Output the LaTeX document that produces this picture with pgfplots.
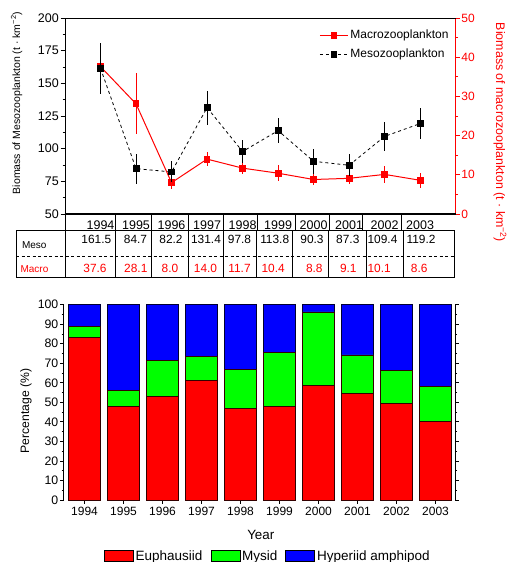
\documentclass[border=0pt]{standalone}
\usepackage{pgfplots}
\pgfplotsset{compat=1.18}
\usepackage{fontspec}
\setmainfont{Liberation Sans}
\definecolor{cred}{RGB}{255,0,0}
\definecolor{cgreen}{RGB}{0,255,0}
\definecolor{cblue}{RGB}{0,0,255}
\newcommand\fs[1]{\fontsize{#1}{#1}\selectfont}
\pgfplotstableread{
year y ey
1994 37.6 2.5
1995 28.1 7.8
1996 8.0 1.6
1997 14.0 1.7
1998 11.7 1.4
1999 10.4 2.1
2000 8.8 1.4
2001 9.1 1.5
2002 10.1 2.2
2003 8.6 1.9
}\macro
\pgfplotstableread{
year y ey
1994 161.5 19.4
1995 84.7 11.4
1996 82.2 8.0
1997 131.4 13.1
1998 97.8 9.0
1999 113.8 9.4
2000 90.3 9.4
2001 87.3 8.5
2002 109.4 11.0
2003 119.2 12.0
}\meso
\pgfplotstableread{
x eup mys hyp
0 83.3 5.5 11.2
1 48.0 8.0 44.0
2 53.2 18.2 28.6
3 61.2 12.4 26.4
4 46.7 20.1 33.2
5 48.0 27.5 24.5
6 58.6 37.7 3.7
7 54.7 19.6 25.7
8 49.4 17.0 33.6
9 40.4 17.7 41.9
}\perc
\begin{document}
\begin{tikzpicture}[x=1pt,y=1pt]
\useasboundingbox (0,0) rectangle (507,562);
% ---------- top: macrozooplankton (right axis) ----------
\begin{axis}[
  at={(65pt,348pt)}, anchor=south west,
  scale only axis, width=390.7pt, height=196pt,
  xmin=1993, xmax=2004, ymin=0, ymax=50,
  axis x line=none, axis y line*=right,
  y axis line style={cred,-,line width=0.8pt},
  ytick={0,10,...,50}, minor y tick num=1,
  tick align=outside, major tick length=4pt, minor tick length=2.5pt,
  y tick style={cred,line width=0.8pt},
  yticklabel style={cred,font=\fs{12},inner sep=1.5pt},
  /pgf/number format/assume math mode=true,
  legend style={at={(0.995,0.96)},anchor=north east,draw=none,fill=none,
    font=\fs{12},row sep=5pt},
  legend cell align=left,
  legend image code/.code={\draw[mark repeat=2,mark phase=2,#1] plot coordinates {(0pt,0pt) (14pt,0pt) (28pt,0pt)};},
]
\addplot[cred, line width=1pt, mark=square*, mark size=2.9pt, mark options={solid},
  error bars/.cd, y dir=both, y explicit, error mark=none,
  error bar style={cred,line width=1pt}]
  table[x=year,y=y,y error=ey]{\macro};
\addlegendentry{Macrozooplankton}
\addlegendimage{black, line width=0.8pt, dash pattern=on 3pt off 3pt, mark=square*, mark size=2.9pt, mark options={solid}}
\addlegendentry{Mesozooplankton}
\end{axis}
% ---------- top: mesozooplankton (left axis) ----------
\begin{axis}[
  at={(65pt,348pt)}, anchor=south west,
  scale only axis, width=390.7pt, height=196pt,
  xmin=1993, xmax=2004, ymin=50, ymax=200,
  axis x line*=box, axis y line*=left,
  axis line style={-,black,line width=0.8pt},
  xtick={1994,...,2003},
  xticklabels={1994,1995,1996,1997,1998,1999,2000,2001,2002,2003},
  x tick style={draw=none},
  xticklabel style={font=\fs{12.5},inner sep=2pt},
  ytick={50,75,...,200}, minor y tick num=1,
  tick align=outside, major tick length=4.5pt, minor tick length=2.5pt,
  y tick style={black,line width=0.8pt},
  yticklabel style={font=\fs{12.5},inner sep=1.5pt},
  /pgf/number format/assume math mode=true,
]
\addplot[black, line width=0.8pt, dash pattern=on 3pt off 3pt, mark=square*, mark size=2.9pt, mark options={solid},
  error bars/.cd, y dir=both, y explicit, error mark=none,
  error bar style={black,line width=1pt,solid}]
  table[x=year,y=y,y error=ey]{\meso};
\end{axis}
\draw[line width=1.4pt] (64.5,348) -- (455.7,348);
% ---------- table ----------
\begin{scope}[line width=0.7pt]
\foreach \xx in {115.7,151.7,188.3,223.3,257.7,295,329,362.7,401.7}
  \draw (\xx,348) -- (\xx,331.3);
\draw (65,348) -- (65,285);
\draw (16,331.3) rectangle (454,285);
\foreach \xx in {115.7,151.7,188,223,256.7,292.7,328,366.7,403}
  \draw (\xx,331.3) -- (\xx,285);
\draw[dash pattern=on 3pt off 2.5pt] (16,306) -- (454,306);
\end{scope}
\node[font=\fs{10}] at (34.3,316.5) {Meso};
\node[font=\fs{10},text=cred] at (34.5,293) {Macro};
\begin{scope}[font=\fs{11.9}]
\node at (96.3,323) {161.5};
\node at (135.5,323) {84.7};
\node at (171,323) {82.2};
\node at (206,323) {131.4};
\node at (239.5,323) {97.8};
\node at (274.7,323) {113.8};
\node at (312,323) {90.3};
\node at (347.8,323) {87.3};
\node at (382.5,323) {109.4};
\node at (421,323) {119.2};
\end{scope}
\begin{scope}[font=\fs{11.9},text=cred]
\node at (95,293.2) {37.6};
\node at (135.8,293.2) {28.1};
\node at (170,293.2) {8.0};
\node at (205.5,293.2) {14.0};
\node at (239.5,293.2) {11.7};
\node at (273.2,293.2) {10.4};
\node at (314.3,293.2) {8.8};
\node at (348.3,293.2) {9.1};
\node at (379.2,293.2) {10.1};
\node at (419.2,293.2) {8.6};
\end{scope}
\node[rotate=90,font=\fs{10.5}] at (16.7,459) {Biomass of Mesozooplankton (t · km\textsuperscript{−2})};
\node[rotate=-90,font=\fs{12.4},text=cred] at (500,429.5) {Biomass of macrozooplankton (t · km\textsuperscript{−2})};
% ---------- bottom: stacked percentages ----------
\begin{axis}[
  at={(63.5pt,62pt)}, anchor=south west,
  scale only axis, width=391.5pt, height=195.3pt,
  ybar stacked, bar width=31.7pt,
  xmin=-0.54, xmax=9.5, ymin=0, ymax=100,
  axis x line*=bottom, axis y line*=box,
  x axis line style={draw=none},
  y axis line style={-,black,line width=0.8pt},
  xtick={0,...,9},
  xticklabels={1994,1995,1996,1997,1998,1999,2000,2001,2002,2003},
  xticklabel style={font=\fs{12}},
  x tick style={black,line width=0.6pt},
  ytick={0,10,...,100}, minor y tick num=1,
  tick align=outside, major tick length=3.5pt, minor tick length=2pt,
  y tick style={black,line width=0.8pt},
  yticklabel style={font=\fs{12.3},inner sep=1.5pt},
  /pgf/number format/assume math mode=true,
  legend columns=3,
  legend style={at={(0.522,-0.287)},anchor=center,draw=none,fill=none,font=\fs{13.5},
    /tikz/every even column/.append style={column sep=6pt}},
  legend image code/.code={\draw[#1,draw=black,line width=0.7pt] (0pt,-5pt) rectangle (29pt,5.5pt);},
]
\addplot[fill=cred,draw=black!80!red,line width=0.7pt] table[x=x,y=eup]{\perc};
\addlegendentry{Euphausiid}
\addplot[fill=cgreen,draw=black!80!red,line width=0.7pt] table[x=x,y=mys]{\perc};
\addlegendentry{Mysid}
\addplot[fill=cblue,draw=black!80!blue,line width=0.7pt] table[x=x,y=hyp]{\perc};
\addlegendentry{Hyperiid amphipod}
\end{axis}
\node[rotate=90,font=\fs{12.2}] at (26,151.2) {Percentage (\%)};
\node[font=\fs{13.4}] at (260.8,27) {Year};
\end{tikzpicture}
\end{document}
